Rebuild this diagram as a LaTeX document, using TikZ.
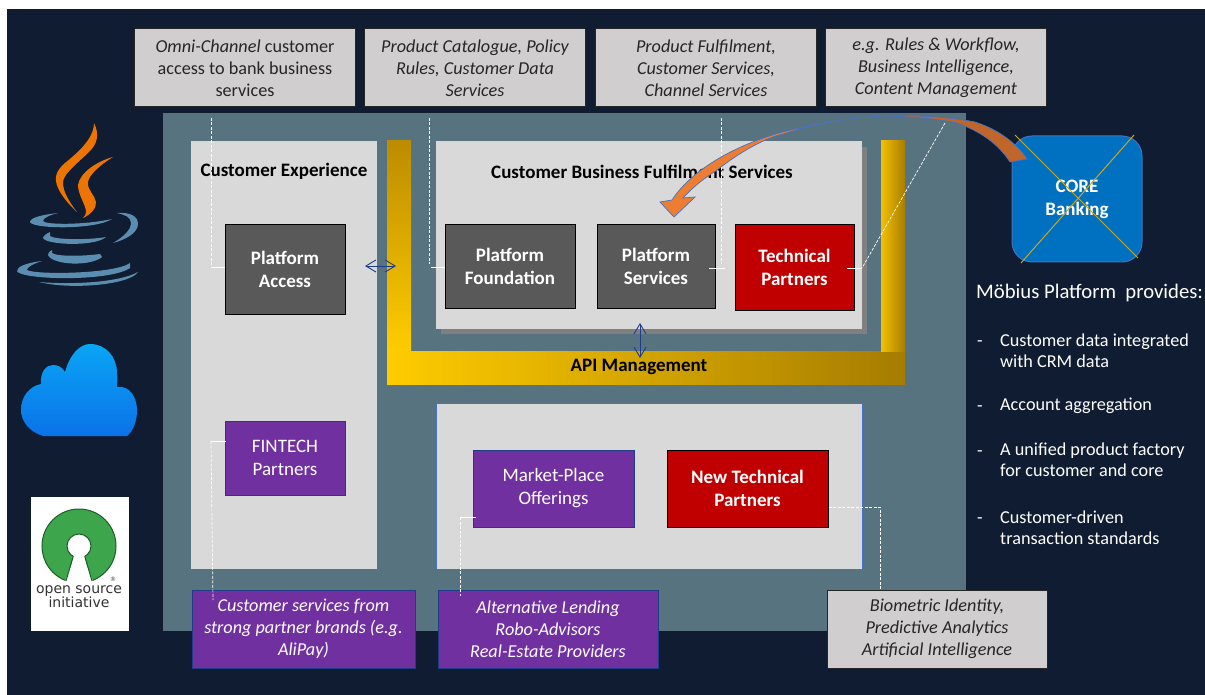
\documentclass[tikz,border=0pt]{standalone}
\usepackage{fontspec}
\setmainfont{Carlito}
\newfontfamily\logofont{DejaVu Sans}
\usetikzlibrary{arrows.meta,calc}
\definecolor{navybg}{HTML}{0F1C31}
\definecolor{teal}{HTML}{587380}
\definecolor{panel}{HTML}{D9D9D9}
\definecolor{topgrey}{HTML}{D0CECE}
\definecolor{darkbox}{HTML}{595959}
\definecolor{redbox}{HTML}{C00000}
\definecolor{purplebox}{HTML}{7030A0}
\definecolor{coreblue}{HTML}{0070C0}
\definecolor{cupblue}{HTML}{5B8DB0}
\definecolor{flame}{HTML}{ED7400}
\definecolor{goldx}{HTML}{C9A81E}
\definecolor{arrowblue}{HTML}{4472C4}
\definecolor{arroworange}{HTML}{ED7D31}
\definecolor{arrowbrown}{HTML}{C0662B}
\definecolor{linknavy}{HTML}{1F3C88}
\definecolor{osigreen}{HTML}{3DA64C}
\definecolor{osidark}{HTML}{1E5B2A}
\definecolor{goldhi}{HTML}{FFCC00}
\definecolor{goldmid}{HTML}{F5C000}
\definecolor{goldlo}{HTML}{A67C00}
\definecolor{goldtop}{HTML}{BC8C00}
\definecolor{cloudhi}{HTML}{0AA5F5}
\definecolor{cloudlo}{HTML}{0B72E8}
\tikzset{
  x=1pt,y=-1pt,
  box/.style={draw,line width=1pt,inner sep=0pt,align=center,text=white},
  topbox/.style={box,fill=topgrey,draw=black!85,text=black!85,font=\fontsize{18.2}{22}\selectfont\itshape},
  dkbox/.style={box,fill=darkbox,draw=black,font=\fontsize{19}{23}\selectfont\bfseries},
  redbx/.style={box,fill=redbox,draw=black,font=\fontsize{19}{23}\selectfont\bfseries},
  purplebx/.style={box,fill=purplebox,draw=linknavy,font=\fontsize{19}{23}\selectfont},
  purpleital/.style={box,fill=purplebox,draw=linknavy,font=\fontsize{18.2}{22}\selectfont\itshape},
  paneltitle/.style={inner sep=0pt,text=black,font=\fontsize{19}{22}\selectfont\bfseries},
  sidetext/.style={inner sep=0pt,anchor=west,align=left,text=white,font=\fontsize{18.2}{21}\selectfont},
  link/.style={draw=white,line width=.7pt,dash pattern=on 3pt off 1.5pt},
  tick/.style={draw=white,line width=.8pt},
  dbl/.style={draw=linknavy,line width=.9pt,{Straight Barb[length=10pt,width=12pt]}-{Straight Barb[length=10pt,width=12pt]}},
  cup/.style={fill=cupblue,draw=none},
}
\begin{document}
\begin{tikzpicture}
\useasboundingbox (0,0) rectangle (1205,695);
\fill[white] (0,0) rectangle (1205,695);
\fill[navybg] (7,9) rectangle (1205,695);
\fill[teal] (163,113) rectangle (966,631);

% Java logo
\fill[flame] (94,123) .. controls (94,135) and (85,147) .. (65,163) .. controls (57,170) and (55,176) .. (56,181) .. controls (57,190) and (66,202) .. (77,212) .. controls (70,203) and (63,192) .. (63,183) .. controls (63,175) and (72,168) .. (88,153) .. controls (97,145) and (100,135) .. (94,123) -- cycle;
\fill[flame] (113,157) .. controls (98,161) and (80,172) .. (78,185) .. controls (78,195) and (86,205) .. (86,212) .. controls (86,214) and (85,216) .. (83,218) .. controls (90,215) and (97,208) .. (96,202) .. controls (95,195) and (87,190) .. (88,182) .. controls (89,175) and (100,165) .. (113,157) -- cycle;
\fill[cup] (58,213) .. controls (40,215) and (30,218) .. (30,222) .. controls (32,229) and (95,230) .. (112,219) .. controls (85,225) and (45,225) .. (43,221) .. controls (43,218) and (50,215) .. (58,213) -- cycle;
\fill[cup] (117,213) .. controls (130,212) and (138,216) .. (138,224) .. controls (138,233) and (125,240) .. (113,243) .. controls (125,236) and (131,229) .. (131,223) .. controls (131,217) and (125,215) .. (117,213) -- cycle;
\fill[cup] (50,232) .. controls (46,234) and (43,236) .. (43,238) .. controls (46,245) and (95,247) .. (106,237) .. controls (90,240) and (55,240) .. (50,236) -- cycle;
\fill[cup] (52,250) .. controls (49,252) and (48,253) .. (48,255) .. controls (52,265) and (90,267) .. (102,257) -- (100,254) .. controls (85,256) and (58,257) .. (52,253) -- cycle;
\fill[cup] (42,261) .. controls (25,263) and (17,267) .. (17,271) .. controls (20,280) and (110,282) .. (130,268) -- (130,263) .. controls (115,274) and (35,275) .. (27,270) .. controls (27,267) and (33,264) .. (42,261) -- cycle;
\fill[cup] (39,282) .. controls (75,285) and (120,282) .. (138,272) .. controls (130,285) and (70,290) .. (39,282) -- cycle;

% Cloud
\shade[top color=cloudhi,bottom color=cloudlo] (43,436) .. controls (30,432) and (21,422) .. (21,410) .. controls (21,396) and (30,386) .. (41,384) .. controls (40,372) and (46,365) .. (53,365) .. controls (58,365) and (62,367) .. (65,372) .. controls (70,354) and (80,344) .. (90,344) .. controls (106,344) and (117,357) .. (117,373) .. controls (118,380) and (117,383) .. (117,387) .. controls (130,385) and (137,398) .. (137,410) .. controls (137,422) and (133,431) .. (127,436) -- cycle;

% OSI logo
\fill[white] (31,497) rectangle (129,631);
\fill[osigreen,draw=osidark,line width=1pt] (79,546) circle[radius=37pt];
\fill[white] (75,555) -- (83,555) -- (96,590) -- (62,590) -- cycle;
\fill[white,draw=osidark,line width=1pt] (79,546) circle[radius=12pt];
\fill[white] (75,552) -- (83,552) -- (86,562) -- (72,562) -- cycle;
\draw[osidark,line width=1pt] (73,557) -- (66,581) (85,557) -- (92,581);
\node[inner sep=0pt,font=\fontsize{6}{6}\selectfont\logofont,text=black!75] (osireg) at (113,579) {®};
\node[inner sep=0pt,align=center,text=black!80,font=\fontsize{14}{14}\logofont\selectfont] (osi) at (79,597) {open source\\initiative};

% API management U
\shade[top color=goldtop,bottom color=goldhi] (387,141) rectangle (411,351);
\shade[left color=goldhi,right color=goldlo] (387,351) rectangle (905,384);
\shade[left color=goldmid,right color=goldlo] (881,141) rectangle (905,351);
\node[paneltitle] (api) at (639,366.5) {API Management};

% Panels
\fill[panel] (191,141) rectangle (377,569);
\fill[black!50] (441,147) rectangle (867,334);
\fill[panel] (436,141) rectangle (862,329);
\fill[panel,draw=arrowblue,line width=.7pt] (436,403) rectangle (862,569);
\node[paneltitle] (cx) at (284,171.5) {Customer Experience};
\node[paneltitle] (cbfs) at (642,171.5) {Customer Business Fulfilment Services};

% Top boxes
\node[topbox,minimum width=221pt,minimum height=78pt] (t1) at (245,68) {\textit{Omni-Channel} \textup{customer}\\\textup{access to bank business}\\\textup{services}};
\node[topbox,minimum width=221pt,minimum height=78pt] (t2) at (475,68) {Product Catalogue, Policy\\Rules, Customer Data\\Services};
\node[topbox,minimum width=221pt,minimum height=78pt] (t3) at (706,68) {Product Fulfilment,\\Customer Services,\\Channel Services};
\node[topbox,minimum width=221pt,minimum height=78pt] (t4) at (936,68) {e.g. Rules \& Workflow,\\Business Intelligence,\\Content Management};

% Inner boxes
\node[dkbox,minimum width=120pt,minimum height=89pt] (pa) at (285,269.5) {Platform\\Access};
\node[dkbox,minimum width=130pt,minimum height=83pt] (pf) at (510,266.5) {Platform\\Foundation};
\node[dkbox,minimum width=118pt,minimum height=83pt] (ps) at (656,266.5) {Platform\\Services};
\node[redbx,minimum width=119pt,minimum height=85pt] (tp) at (794.5,267.5) {Technical\\Partners};
\node[purplebx,minimum width=120pt,minimum height=74pt] (fin) at (285,458) {FINTECH\\Partners};
\node[purplebx,minimum width=161pt,minimum height=77pt] (mp) at (553.5,488.5) {Market-Place\\Offerings};
\node[redbx,minimum width=161pt,minimum height=77pt] (ntp) at (747.5,488.5) {New Technical\\Partners};

% Bottom boxes
\node[purpleital,minimum width=223pt,minimum height=78pt] (b1) at (303.5,629) {Customer services from\\strong partner brands (e.g.\\AliPay)};
\node[purpleital,minimum width=220pt,minimum height=78pt] (b2) at (548,629) {Alternative Lending\\Robo-Advisors\\Real-Estate Providers};
\node[topbox,minimum width=220pt,minimum height=78pt] (b3) at (937,629) {Biometric Identity,\\Predictive Analytics\\Artificial Intelligence};

% Connectors
\coordinate (c1a) at (211,118);\coordinate (c1b) at (211,267);
\draw[link] (c1a) -- (c1b);
\draw[tick] (c1b) -- (pa.west |- c1b);
\coordinate (c2a) at (429,118);\coordinate (c2b) at (429,264);\coordinate (c2c) at (431,267);
\draw[link] (c2a) -- (c2b);
\draw[tick] (c2c) -- (pf.west |- c2c);
\coordinate (c3a) at (721,118);\coordinate (c3b) at (721,264);\coordinate (c3c) at (725,268);\coordinate (c3d) at (709,268);
\draw[link] (c3a) -- (c3b);
\draw[tick] (c3d) -- (c3c);
\coordinate (c4a) at (945,123);\coordinate (c4b) at (862,268);\coordinate (c4c) at (847,268);
\draw[link] (c4a) -- (c4b);
\draw[tick] (c4c) -- (c4b);
\coordinate (c5a) at (211,441);\coordinate (c5b) at (213,600);\coordinate (c5c) at (226,441);
\draw[link] (c5a) -- (c5b);
\draw[tick] (c5c) -- (c5a);
\coordinate (c6a) at (460,517);\coordinate (c6b) at (460,596);\coordinate (c6c) at (476,517);
\draw[link] (c6a) -- (c6b);
\draw[tick] (c6c) -- (c6a);
\coordinate (c7a) at (880,507);
\draw[link] (ntp.east |- c7a) -- (c7a) -- (c7a |- b3.north);

% Double arrows
\coordinate (h1) at (365,266);\coordinate (h2) at (396,266);
\draw[dbl] (h1) -- (h2);
\coordinate (v1) at (640,323);\coordinate (v2) at (640,358);
\draw[dbl] (v1) -- (v2);

% CORE
\node[box,fill=coreblue,draw=arrowblue,rounded corners=20pt,minimum width=130pt,minimum height=126pt,font=\fontsize{19}{23}\selectfont\bfseries] (core) at (1077,199) {CORE\\Banking};
\coordinate (xa) at (1015,135);\coordinate (xb) at (1138,258);\coordinate (xc) at (1134,135);\coordinate (xd) at (1021,263);
\draw[goldx,line width=1pt] (xa) -- (xb) (xc) -- (xd);

% Curved arrow
\filldraw[fill=arrowbrown,draw=arrowblue,line width=.7pt] (883,116) .. controls (915,115) and (950,117) .. (975,122) .. controls (1000,130) and (1018,145) .. (1027,159) -- (1010,162) .. controls (1000,147) and (985,133) .. (957,123) .. controls (935,118) and (910,117) .. (883,116) -- cycle;
\filldraw[fill=arroworange,draw=arrowblue,line width=.7pt] (883,116) .. controls (845,118) and (810,125) .. (783,132) .. controls (745,142) and (695,165) .. (672,200) -- (660,202) -- (674,217) -- (695,197) -- (683,198) .. controls (695,185) and (705,178) .. (717,170) .. controls (740,152) and (765,138) .. (783,134) .. controls (810,125) and (845,118) .. (883,116) -- cycle;

% Right text
\node[sidetext,font=\fontsize{20.7}{24}\selectfont] (mob) at (976,292.5) {Möbius Platform\ \ provides:};
\node[sidetext] (d1) at (977,344) {-};
\node[sidetext] (l1) at (1000,350.5) {Customer data integrated\\with CRM data};
\node[sidetext] (d2) at (977,409) {-};
\node[sidetext] (l2) at (1000,406) {Account aggregation};
\node[sidetext] (d3) at (977,454) {-};
\node[sidetext] (l3) at (1000,460) {A unified product factory\\for customer and core};
\node[sidetext] (d4) at (977,521) {-};
\node[sidetext] (l4) at (1000,527.5) {Customer-driven\\transaction standards};
\end{tikzpicture}
\end{document}
